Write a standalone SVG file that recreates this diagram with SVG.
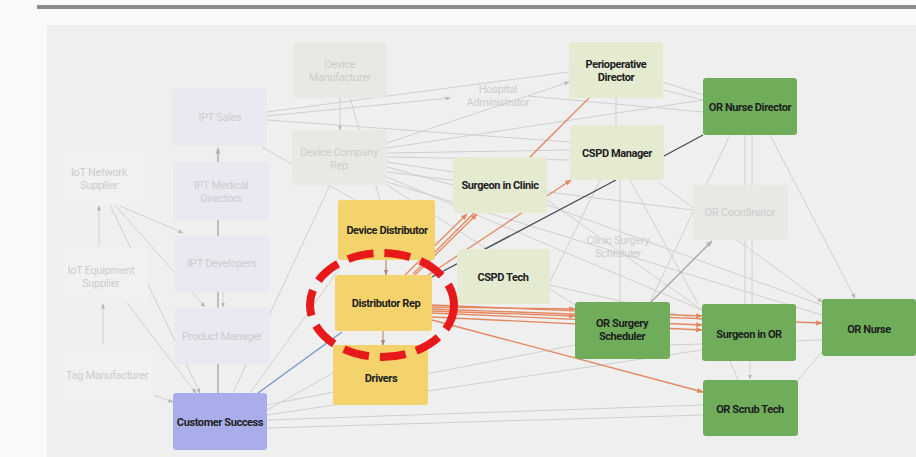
<svg xmlns="http://www.w3.org/2000/svg" width="916" height="457" viewBox="0 0 916 457">
<defs>
<style>
.bg{fill:#fafafa}
.panel{fill:#efefef}
.faint{fill:#cdcdcd;font-family:Roboto,"Noto Sans",sans-serif;font-size:11px;text-anchor:middle;letter-spacing:-0.3px}
.lbl{fill:#1c211d;font-family:Roboto,"Noto Sans",sans-serif;font-size:11px;font-weight:bold;text-anchor:middle;letter-spacing:-0.4px}
.yellow{fill:#f4d36c}
.pale{fill:#e5ebd1}
.green{fill:#70ad5a}
.lav{fill:#a9aeea}
.warm{fill:#eae8e4}
.blu{fill:#e8e9f1}
.ghost{fill:#f1f1f1}
.orc{fill:#e6e9e4}
.g{stroke:#cfcfcf;stroke-width:1;fill:none}
.gd{stroke:#a3a3a3;stroke-width:1.3;fill:none}
.o{stroke:#e4875f;stroke-width:1.3;fill:none}
.ob{stroke:#b5876b;stroke-width:1.1;fill:none}
.d{stroke:#474c58;stroke-width:1.4;fill:none}
.b{stroke:#7394d8;stroke-width:1.3;fill:none}
</style>
<marker id="ag" viewBox="0 0 10 10" refX="9" refY="5" markerWidth="5" markerHeight="5" orient="auto"><path d="M0,1 L10,5 L0,9 z" fill="#b5b5b5"/></marker>
<marker id="ao" viewBox="0 0 10 10" refX="9" refY="5" markerWidth="5" markerHeight="5" orient="auto"><path d="M0,1 L10,5 L0,9 z" fill="#e4875f"/></marker>
<marker id="ab" viewBox="0 0 10 10" refX="9" refY="5" markerWidth="5" markerHeight="5" orient="auto"><path d="M0,1 L10,5 L0,9 z" fill="#b5876b"/></marker>
</defs>

<rect class="bg" x="0" y="0" width="916" height="457"/>
<rect x="37" y="5" width="879" height="4" fill="#8c8c8c"/>
<rect class="panel" x="47" y="25" width="869" height="432"/>

<g id="connectors">
  <line class="g" x1="267" y1="112" x2="569" y2="72"/>
  <line class="g" x1="267" y1="116" x2="450" y2="98" marker-end="url(#ag)"/>
  <line class="g" x1="267" y1="120" x2="570" y2="142"/>
  <line class="g" x1="340" y1="98" x2="340" y2="130" marker-end="url(#ag)"/>
  <line class="g" x1="350" y1="98" x2="380" y2="200"/>
  <line class="g" x1="262" y1="147" x2="355" y2="200"/>
  <line class="g" x1="387" y1="143" x2="569" y2="82" marker-end="url(#ag)"/>
  <line class="g" x1="387" y1="148" x2="703" y2="100"/>
  <line class="g" x1="387" y1="153" x2="570" y2="150"/>
  <line class="g" x1="387" y1="157" x2="570" y2="160"/>
  <line class="g" x1="387" y1="162" x2="453" y2="172"/>
  <line class="g" x1="387" y1="167" x2="453" y2="185"/>
  <line class="g" x1="387" y1="172" x2="693" y2="210"/>
  <line class="g" x1="387" y1="177" x2="702" y2="310"/>
  <line class="g" x1="387" y1="182" x2="822" y2="315"/>
  <line class="g" x1="387" y1="185" x2="575" y2="305"/>
  <line class="g" x1="330" y1="185" x2="233" y2="393"/>
  <line class="g" x1="120" y1="206" x2="183" y2="233" marker-end="url(#ag)"/>
  <line class="g" x1="99" y1="246" x2="99" y2="206" marker-end="url(#ag)"/>
  <line class="g" x1="103" y1="344" x2="103" y2="304" marker-end="url(#ag)"/>
  <line class="g" x1="115" y1="205" x2="205" y2="307" marker-end="url(#ag)"/>
  <line class="g" x1="110" y1="205" x2="200" y2="393" marker-end="url(#ag)"/>
  <line class="g" x1="127" y1="303" x2="196" y2="393" marker-end="url(#ag)"/>
  <line class="g" x1="147" y1="393" x2="173" y2="402" marker-end="url(#ag)"/>
  <line class="g" x1="223" y1="292" x2="223" y2="307" marker-end="url(#ag)"/>
  <line class="g" x1="267" y1="405" x2="575" y2="345"/>
  <line class="g" x1="267" y1="410" x2="335" y2="372"/>
  <line class="g" x1="267" y1="415" x2="702" y2="350"/>
  <line class="g" x1="267" y1="420" x2="703" y2="405"/>
  <line class="g" x1="267" y1="428" x2="703" y2="415"/>
  <line class="g" x1="250" y1="393" x2="340" y2="268"/>
  <line class="g" x1="663" y1="82" x2="703" y2="95"/>
  <line class="g" x1="663" y1="90" x2="703" y2="100"/>
  <line class="g" x1="616" y1="98" x2="616" y2="125"/>
  <line class="g" x1="528" y1="96" x2="703" y2="112"/>
  <line class="g" x1="730" y1="135" x2="650" y2="302"/>
  <line class="g" x1="745" y1="135" x2="745" y2="304"/>
  <line class="g" x1="752" y1="135" x2="752" y2="304"/>
  <line class="g" x1="770" y1="135" x2="855" y2="298" marker-end="url(#ag)"/>
  <line class="g" x1="620" y1="180" x2="620" y2="302"/>
  <line class="g" x1="630" y1="180" x2="698" y2="304"/>
  <line class="g" x1="658" y1="182" x2="822" y2="302" marker-end="url(#ag)"/>
  <line class="g" x1="547" y1="200" x2="702" y2="310"/>
  <line class="g" x1="547" y1="205" x2="822" y2="305"/>
  <line class="g" x1="550" y1="285" x2="702" y2="320"/>
  <line class="g" x1="600" y1="180" x2="540" y2="302"/>
  <line class="g" x1="730" y1="361" x2="738" y2="380"/>
  <line class="g" x1="750" y1="361" x2="750" y2="379" marker-end="url(#ag)"/>
  <line class="g" x1="822" y1="352" x2="796" y2="382"/>
  <line class="g" x1="670" y1="345" x2="822" y2="340"/>
  <line class="gd" x1="651" y1="302" x2="712" y2="241" marker-end="url(#ag)"/>
  <line class="gd" x1="218" y1="393" x2="218" y2="148" marker-end="url(#ag)"/>
  <line class="o" x1="413" y1="274" x2="589" y2="98"/>
  <line class="o" x1="405" y1="275" x2="467" y2="214" marker-end="url(#ao)"/>
  <line class="o" x1="415" y1="275" x2="477" y2="214" marker-end="url(#ao)"/>
  <line class="o" x1="427" y1="276" x2="571" y2="180" marker-end="url(#ao)"/>
  <line class="o" x1="432" y1="307" x2="575" y2="309" marker-end="url(#ao)"/>
  <line class="o" x1="432" y1="311" x2="575" y2="316" marker-end="url(#ao)"/>
  <line class="o" x1="432" y1="305" x2="702" y2="316" marker-end="url(#ao)"/>
  <line class="o" x1="432" y1="313" x2="702" y2="325" marker-end="url(#ao)"/>
  <line class="o" x1="432" y1="317" x2="702" y2="330" marker-end="url(#ao)"/>
  <line class="o" x1="432" y1="309" x2="822" y2="323" marker-end="url(#ao)"/>
  <line class="o" x1="432" y1="320" x2="703" y2="392" marker-end="url(#ao)"/>
  <line class="ob" x1="386" y1="260" x2="386" y2="275" marker-end="url(#ab)"/>
  <line class="ob" x1="383" y1="331" x2="383" y2="345" marker-end="url(#ab)"/>
  <line class="d" x1="432" y1="277" x2="616" y2="180"/>
  <line class="d" x1="664" y1="156" x2="703" y2="135"/>
  <line class="b" x1="258" y1="393" x2="342" y2="332"/>
</g>

<g id="device-manufacturer"><rect class="warm" x="293" y="42" width="94" height="56" rx="3"/><text class="faint" x="340" y="68">Device</text><text class="faint" x="340" y="81">Manufacturer</text></g>
<g id="ipt-sales"><rect class="blu" x="172" y="88" width="95" height="58" rx="3"/><text class="faint" x="220" y="121">IPT Sales</text></g>
<g id="ipt-medical-directors"><rect class="blu" x="173" y="162" width="96" height="58" rx="3"/><text class="faint" x="221" y="189">IPT Medical</text><text class="faint" x="221" y="202">Directors</text></g>
<g id="ipt-developers"><rect class="blu" x="175" y="236" width="95" height="56" rx="3"/><text class="faint" x="222" y="267">IPT Developers</text></g>
<g id="product-manager"><rect class="blu" x="175" y="308" width="95" height="56" rx="3"/><text class="faint" x="222" y="340">Product Manager</text></g>
<g id="device-company-rep"><rect class="warm" x="292" y="130" width="95" height="55" rx="3"/><text class="faint" x="339" y="156">Device Company</text><text class="faint" x="339" y="169">Rep</text></g>
<g id="iot-network-supplier"><rect class="ghost" x="58" y="150" width="86" height="55" rx="3"/><text class="faint" x="99" y="176">IoT Network</text><text class="faint" x="99" y="189">Supplier</text></g>
<g id="iot-equipment-supplier"><rect class="ghost" x="58" y="248" width="90" height="55" rx="3"/><text class="faint" x="101" y="274">IoT Equipment</text><text class="faint" x="101" y="287">Supplier</text></g>
<g id="tag-manufacturer"><rect class="ghost" x="58" y="346" width="96" height="55" rx="3"/><text class="faint" x="107" y="379">Tag Manufacturer</text></g>
<g id="hospital-administrator"><text class="faint" x="498" y="93">Hospital</text><text class="faint" x="498" y="106">Administrator</text></g>
<g id="or-coordinator"><rect class="orc" x="693" y="185" width="95" height="55" rx="3"/><text class="faint" x="740" y="216">OR Coordinator</text></g>
<g id="clinic-surgery-scheduler"><text class="faint" x="618" y="244">Clinic Surgery</text><text class="faint" x="618" y="257">Scheduler</text></g>

<g id="perioperative-director"><rect class="pale" x="569" y="42" width="94" height="56" rx="3"/><text class="lbl" x="616" y="68">Perioperative</text><text class="lbl" x="616" y="81">Director</text></g>
<g id="or-nurse-director"><rect class="green" x="703" y="78" width="94" height="57" rx="3"/><text class="lbl" x="750" y="111">OR Nurse Director</text></g>
<g id="cspd-manager"><rect class="pale" x="570" y="125" width="94" height="55" rx="3"/><text class="lbl" x="617" y="157">CSPD Manager</text></g>
<g id="surgeon-in-clinic"><rect class="pale" x="453" y="157" width="94" height="56" rx="3"/><text class="lbl" x="500" y="189">Surgeon in Clinic</text></g>
<g id="device-distributor"><rect class="yellow" x="338" y="200" width="97" height="60" rx="3"/><text class="lbl" x="387" y="234">Device Distributor</text></g>
<g id="distributor-rep"><rect class="yellow" x="335" y="275" width="97" height="56" rx="3"/><text class="lbl" x="386" y="307">Distributor Rep</text></g>
<g id="drivers"><rect class="yellow" x="333" y="345" width="95" height="60" rx="3"/><text class="lbl" x="381" y="382">Drivers</text></g>
<g id="cspd-tech"><rect class="pale" x="457" y="249" width="93" height="55" rx="3"/><text class="lbl" x="503" y="281">CSPD Tech</text></g>
<g id="customer-success"><rect class="lav" x="173" y="393" width="94" height="57" rx="3"/><text class="lbl" x="220" y="426">Customer Success</text></g>
<g id="or-surgery-scheduler"><rect class="green" x="575" y="302" width="95" height="57" rx="3"/><text class="lbl" x="622" y="327">OR Surgery</text><text class="lbl" x="622" y="340">Scheduler</text></g>
<g id="surgeon-in-or"><rect class="green" x="702" y="304" width="94" height="57" rx="3"/><text class="lbl" x="749" y="338">Surgeon in OR</text></g>
<g id="or-nurse"><rect class="green" x="822" y="299" width="94" height="57" rx="3"/><text class="lbl" x="869" y="333">OR Nurse</text></g>
<g id="or-scrub-tech"><rect class="green" x="703" y="380" width="95" height="56" rx="3"/><text class="lbl" x="750" y="413">OR Scrub Tech</text></g>

<g id="highlight"><ellipse cx="382" cy="305" rx="72" ry="52" fill="none" stroke="#e8191b" stroke-width="8" stroke-dasharray="26 11"/></g>
</svg>
